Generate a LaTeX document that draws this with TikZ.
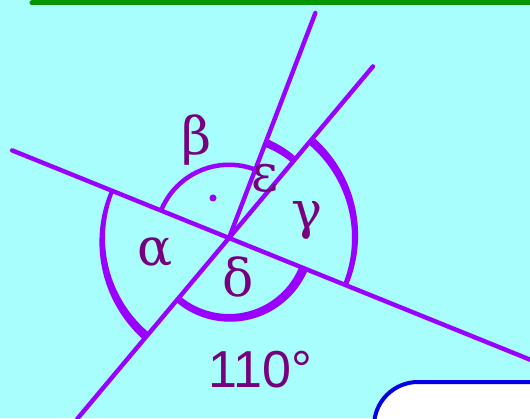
\documentclass[tikz,border=0pt]{standalone}
\usepackage{fontspec}
\newfontfamily\greekserif{DejaVu Serif}
\newfontfamily\labelsans{Liberation Sans}
\usetikzlibrary{calc}
\definecolor{skycyan}{RGB}{168,253,253}
\definecolor{rayviolet}{RGB}{153,0,255}
\definecolor{textplum}{RGB}{118,0,128}
\definecolor{rulegreen}{RGB}{0,150,0}
\definecolor{boxblue}{RGB}{0,0,230}
% angle arc round (O): start, end, inner radius, width at start, width at end
\newcommand{\anglearc}[5]{%
  \fill[rayviolet, shift={(O)}] plot[domain=#1:#2, samples=40] (\x:#3)
    -- plot[domain=#2:#1, samples=40] (\x:{#3+#4+(#5-#4)*(\x-(#1))/(#2-(#1))}) -- cycle;}

\begin{document}
\begin{tikzpicture}[
    x=0.5pt, y=0.5pt,
    ray/.style={draw=rayviolet, line width=2.2pt, line cap=round},
    greek/.style={text=textplum, font=\greekserif\fontsize{26}{30}\selectfont, inner sep=0pt}
  ]
  % Frame and background
  \useasboundingbox (0,0) rectangle (530,418);
  \clip (0,0) rectangle (530,418);
  \fill[skycyan] (0,0) rectangle (530,418);

  % Top rule with ticks
  \coordinate (rw) at (32,415);
  \coordinate (re) at (540,415);
  \draw[rulegreen, line width=2.5pt, line cap=round] (rw) -- (re);
  \foreach \tx in {220,283,352}
    \draw[rulegreen, line width=2.5pt] (\tx,415) -- (\tx,425);

  % Vertex and rays
  \coordinate (O) at (229,180);
  \coordinate (L1w) at ($(O)+(158:234)$);
  \coordinate (L1e) at ($(O)+(-22:340)$);
  \coordinate (L2ne) at ($(O)+(50:224)$);
  \coordinate (L2sw) at ($(O)+(230:236)$);
  \coordinate (R3) at ($(O)+(69:241)$);

  % Angle arcs
  \anglearc{158}{230}{124}{4}{9}
  \anglearc{69}{158}{71}{4.5}{4.5}
  \anglearc{50}{69}{98}{7}{8}
  \anglearc{-22}{50}{123}{5}{8.5}
  \anglearc{230}{338}{76}{7}{9}

  \draw[ray] (L1w) -- (L1e);
  \draw[ray] (L2sw) -- (L2ne);
  \draw[ray] (O) -- (R3);

  % Labels
  \node[greek] (alpha) at (155,166) {α};
  \node[greek] (beta) at (197,278) {β};
  \node[greek] (gamma) at (307,198) {γ};
  \node[greek] (delta) at (238,141) {δ};
  \node[greek] (eps) at (265,240) {ε};
  \fill[rayviolet] (213,220) circle[radius=3.5];
  \node[greek, font=\labelsans\fontsize{26}{30}\selectfont] (val) at (260,48) {110°};

  % Answer box
  \draw[boxblue, fill=white, line width=2pt, rounded corners=22pt] (374,-100) rectangle (600,36);
\end{tikzpicture}
\end{document}
